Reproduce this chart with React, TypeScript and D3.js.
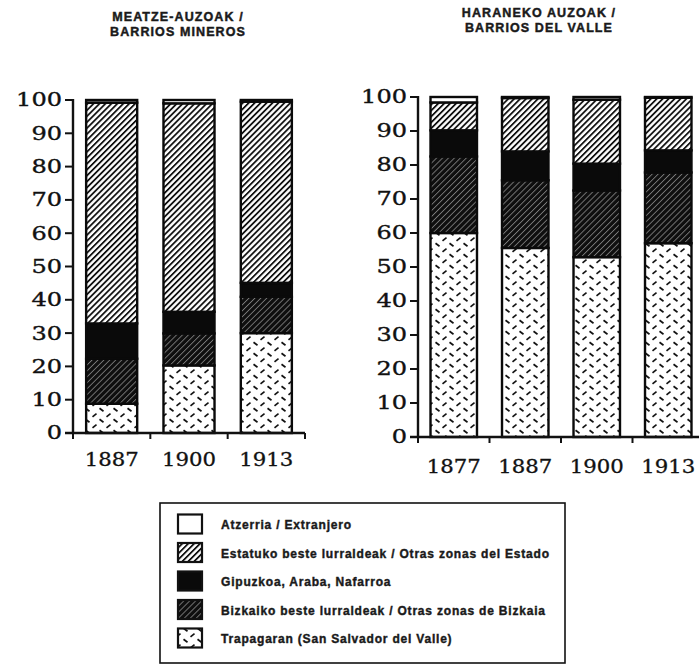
import React from "react";
import * as d3 from "d3";

// ---------- DATA ----------
const seriesKeys = ["trapagaran", "bizkaiko", "gipuzkoa", "estatuko", "atzerria"];
const legendLabels = [
  "Atzerria / Extranjero",
  "Estatuko beste lurraldeak / Otras zonas del Estado",
  "Gipuzkoa, Araba, Nafarroa",
  "Bizkaiko beste lurraldeak / Otras zonas de Bizkaia",
  "Trapagaran (San Salvador del Valle)",
];
const legendKeys = ["atzerria", "estatuko", "gipuzkoa", "bizkaiko", "trapagaran"];

const leftTitle = ["MEATZE-AUZOAK /", "BARRIOS MINEROS"];
const rightTitle = ["HARANEKO AUZOAK /", "BARRIOS DEL VALLE"];

const leftYears = ["1887", "1900", "1913"];
const leftTrapagaran = [8.8, 20.3, 30.0];
const leftBizkaiko = [13.5, 9.6, 10.9];
const leftGipuzkoa = [10.6, 6.5, 4.2];
const leftEstatuko = [66.3, 62.6, 54.4];
const leftAtzerria = [0.8, 1.0, 0.5];

const rightYears = ["1877", "1887", "1900", "1913"];
const rightTrapagaran = [60.0, 55.6, 52.9, 57.0];
const rightBizkaiko = [22.5, 19.9, 19.6, 20.8];
const rightGipuzkoa = [7.7, 8.5, 7.9, 6.5];
const rightEstatuko = [8.2, 15.7, 18.8, 15.5];
const rightAtzerria = [1.6, 0.3, 0.8, 0.2];

const yTicks = [0, 10, 20, 30, 40, 50, 60, 70, 80, 90, 100];

// ---------- HELPERS ----------
const fills: Record<string, string> = {
  trapagaran: "url(#pTrap)",
  bizkaiko: "url(#pBiz)",
  gipuzkoa: "#0a0a0a",
  estatuko: "url(#pEst)",
  atzerria: "#ffffff",
};

function buildRows(years: string[], cols: number[][]) {
  return years.map((y, i) => {
    const r: any = { year: y };
    seriesKeys.forEach((k, j) => (r[k] = cols[j][i]));
    return r;
  });
}

const serifFont = "'DejaVu Serif', serif";
const sansFont = "'Liberation Sans', Arial, sans-serif";

function Panel(props: {
  years: string[];
  cols: number[][];
  x0: number;
  x1: number;
  yTop: number;
  yBot: number;
  pad: number;
  labelBase: number;
}) {
  const { years, cols, x0, x1, yTop, yBot, pad, labelBase } = props;
  const rows = buildRows(years, cols);
  const stack = d3.stack<any>().keys(seriesKeys);
  const layers = stack(rows);
  const x = d3
    .scaleBand<string>()
    .domain(years)
    .range([x0, x1])
    .paddingInner(pad)
    .paddingOuter(pad / 2);
  const y = d3.scaleLinear().domain([0, 100]).range([yBot, yTop]);
  const step = x.step();
  const boundaries = d3.range(years.length + 1).map((i) => x0 + i * step);
  return (
    <g>
      {layers.map((layer) =>
        layer.map((d, i) => (
          <rect
            key={layer.key + i}
            x={x(years[i])}
            width={x.bandwidth()}
            y={y(d[1])}
            height={Math.max(0, y(d[0]) - y(d[1]))}
            fill={fills[layer.key]}
            stroke="#0a0a0a"
            strokeWidth={2.4}
          />
        ))
      )}
      {/* y axis */}
      <line x1={x0} x2={x0} y1={y(100) - 1} y2={y(0)} stroke="#111" strokeWidth={2.4} />
      {yTicks.map((t) => (
        <g key={t}>
          <line x1={x0 - 8} x2={x0} y1={y(t)} y2={y(t)} stroke="#111" strokeWidth={2} />
          <text
            x={x0 - 11}
            y={y(t)}
            dy="0.36em"
            textAnchor="end"
            fontFamily={serifFont}
            fontSize={18}
            fill="#111"
            stroke="#111"
            strokeWidth={0.35}
            textLength={String(t).length * 15.3}
            lengthAdjust="spacingAndGlyphs"
          >
            {t}
          </text>
        </g>
      ))}
      {/* x axis */}
      <line x1={x0 - 8} x2={x1} y1={y(0)} y2={y(0)} stroke="#111" strokeWidth={2.4} />
      {boundaries.map((b, i) => (
        <line key={i} x1={b} x2={b} y1={y(0)} y2={y(0) + 6} stroke="#111" strokeWidth={2} />
      ))}
      {years.map((yr) => (
        <text
          key={yr}
          x={(x(yr) as number) + x.bandwidth() / 2}
          y={labelBase}
          textAnchor="middle"
          fontFamily={serifFont}
          fontSize={18}
          fill="#111"
          stroke="#111"
          strokeWidth={0.3}
          textLength={54}
          lengthAdjust="spacingAndGlyphs"
        >
          {yr}
        </text>
      ))}
    </g>
  );
}

export default function App() {
  const leftCols = [leftTrapagaran, leftBizkaiko, leftGipuzkoa, leftEstatuko, leftAtzerria];
  const rightCols = [rightTrapagaran, rightBizkaiko, rightGipuzkoa, rightEstatuko, rightAtzerria];
  const legendY = d3.scalePoint<string>().domain(legendKeys).range([524, 638]);
  return (
    <svg
      width={699}
      height={667}
      style={{ position: "absolute", left: 0, top: 0, background: "#fff" }}
    >
      <defs>
        <pattern id="pEst" patternUnits="userSpaceOnUse" width={4.2} height={4.2} patternTransform="rotate(45)">
          <rect width={4.2} height={4.2} fill="#fff" />
          <rect width={1.8} height={4.2} fill="#111" />
        </pattern>
        <pattern id="pBiz" patternUnits="userSpaceOnUse" width={4.2} height={4.2} patternTransform="rotate(45)">
          <rect width={4.2} height={4.2} fill="#0e0e0e" />
          <rect width={0.9} height={4.2} fill="#7a7a7a" />
        </pattern>
        <pattern id="pTrap" patternUnits="userSpaceOnUse" width={14} height={11}>
          <rect width={14} height={11} fill="#fff" />
          <line x1={1.5} y1={1.2} x2={5.5} y2={4.2} stroke="#111" strokeWidth={1.7} />
          <line x1={8.5} y1={9.8} x2={12.5} y2={6.6} stroke="#111" strokeWidth={1.7} />
        </pattern>
      </defs>

      {/* titles */}
      {leftTitle.map((t, i) => (
        <text key={t} x={178} y={21 + i * 15} textAnchor="middle" fontFamily={sansFont} fontWeight="bold" fontSize={12.5} letterSpacing={1.1} fill="#1a1a1a" stroke="#1a1a1a" strokeWidth={0.45}>
          {t}
        </text>
      ))}
      {rightTitle.map((t, i) => (
        <text key={t} x={539} y={17 + i * 15} textAnchor="middle" fontFamily={sansFont} fontWeight="bold" fontSize={12.5} letterSpacing={1.1} fill="#1a1a1a" stroke="#1a1a1a" strokeWidth={0.45}>
          {t}
        </text>
      ))}

      <Panel years={leftYears} cols={leftCols} x0={73} x1={305} yTop={100} yBot={433} pad={0.34} labelBase={466} />
      <Panel years={rightYears} cols={rightCols} x0={418} x1={704} yTop={97} yBot={437} pad={0.35} labelBase={473} />

      {/* legend */}
      <rect x={160} y={503} width={405} height={160} fill="none" stroke="#111" strokeWidth={1.6} />
      {legendKeys.map((k, i) => (
        <g key={k}>
          <rect x={178} y={(legendY(k) as number) - 9.5} width={24} height={19} fill={fills[k]} stroke="#111" strokeWidth={2.2} />
          <text x={221} y={legendY(k) as number} dy="0.45em" fontFamily={sansFont} fontWeight="bold" fontSize={12} letterSpacing={0.8} fill="#1a1a1a" stroke="#1a1a1a" strokeWidth={0.4}>
            {legendLabels[i]}
          </text>
        </g>
      ))}
    </svg>
  );
}
